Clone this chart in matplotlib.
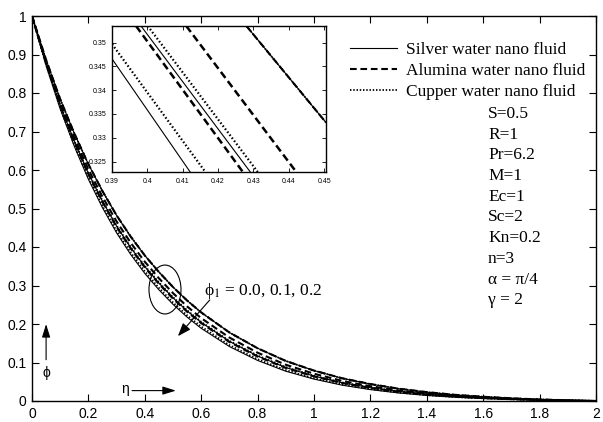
import matplotlib
matplotlib.use("Agg")
from matplotlib import pyplot as plt
from matplotlib.lines import Line2D
from matplotlib.patches import Ellipse

plt.rcParams['mathtext.fontset'] = 'stix'

# similarity variable
eta = [0, 0.05, 0.1, 0.15, 0.2, 0.25, 0.3, 0.35, 0.4, 0.45, 0.5, 0.55, 0.6,
       0.7, 0.8, 0.9, 1.0, 1.1, 1.2, 1.3, 1.4, 1.5, 1.6, 1.7, 1.8, 1.9, 2.0]

# phi1 = 0.0 (same for all three fluids)
phi_base = [1.0, 0.886, 0.784, 0.695, 0.615, 0.545, 0.482, 0.427, 0.378, 0.335, 0.296, 0.261, 0.230,
            0.178, 0.137, 0.104, 0.079, 0.059, 0.044, 0.032, 0.023, 0.016, 0.011, 0.007, 0.004, 0.0018, 0.0]
# phi1 = 0.1
alumina_01 = [1.0, 0.8811, 0.7754, 0.6836, 0.6016, 0.5302, 0.4663, 0.4109, 0.3617, 0.3188, 0.2802, 0.2457, 0.2153,
              0.1648, 0.1255, 0.0942, 0.0708, 0.0523, 0.0385, 0.0277, 0.0197, 0.0136, 0.0092, 0.0058, 0.0033, 0.0015, 0.0]
cupper_01 = [1.0, 0.8778, 0.7696, 0.6759, 0.5925, 0.5202, 0.4558, 0.4001, 0.3509, 0.3081, 0.2697, 0.2356, 0.2057,
             0.1563, 0.1181, 0.0880, 0.0656, 0.0481, 0.0352, 0.0251, 0.0177, 0.0121, 0.0082, 0.0051, 0.0029, 0.0013, 0.0]
silver_01 = [1.0, 0.8772, 0.7686, 0.6746, 0.5910, 0.5186, 0.4541, 0.3983, 0.3491, 0.3063, 0.2680, 0.2339, 0.2041,
             0.1549, 0.1168, 0.0869, 0.0647, 0.0474, 0.0347, 0.0247, 0.0174, 0.0119, 0.0080, 0.0050, 0.0028, 0.0012, 0.0]
# phi1 = 0.2
alumina_02 = [1.0, 0.8766, 0.7674, 0.6730, 0.5892, 0.5166, 0.4520, 0.3962, 0.3470, 0.3042, 0.2660, 0.2320, 0.2023,
              0.1532, 0.1154, 0.0858, 0.0638, 0.0466, 0.0340, 0.0242, 0.0170, 0.0116, 0.0078, 0.0049, 0.0027, 0.0012, 0.0]
cupper_02 = [1.0, 0.8732, 0.7615, 0.6653, 0.5802, 0.5068, 0.4417, 0.3857, 0.3365, 0.2939, 0.2559, 0.2224, 0.1932,
             0.1452, 0.1085, 0.0800, 0.0591, 0.0428, 0.0310, 0.0219, 0.0153, 0.0103, 0.0069, 0.0043, 0.0024, 0.0010, 0.0]
silver_02 = [1.0, 0.8715, 0.7586, 0.6616, 0.5758, 0.5019, 0.4367, 0.3805, 0.3314, 0.2889, 0.2511, 0.2178, 0.1888,
             0.1414, 0.1053, 0.0773, 0.0569, 0.0411, 0.0296, 0.0209, 0.0145, 0.0098, 0.0065, 0.0040, 0.0022, 0.0010, 0.0]

# zoomed window (end points of the segments as seen in the inset)
inset_base_eta = [0.4280, 0.4505]
inset_base = [0.3535, 0.3332]
inset_alumina_01_eta = [0.4110, 0.4421]
inset_alumina_01 = [0.3535, 0.3228]
inset_cupper_01_eta = [0.4001, 0.4312]
inset_cupper_01 = [0.3535, 0.3228]
inset_silver_01_eta = [0.3982, 0.4291]
inset_silver_01 = [0.3535, 0.3228]
inset_alumina_02_eta = [0.3968, 0.4270]
inset_alumina_02 = [0.3535, 0.3228]
inset_cupper_02_eta = [0.3900, 0.4164]
inset_cupper_02 = [0.3497, 0.3228]
inset_silver_02_eta = [0.3900, 0.4121]
inset_silver_02 = [0.3466, 0.3228]

params = ['S=0.5', 'R=1', 'Pr=6.2', 'M=1', 'Ec=1', 'Sc=2', 'Kn=0.2', 'n=3',
          '\u03b1 = \u03c0/4', '\u03b3 = 2']

serif = ['Liberation Serif', 'DejaVu Serif']
sans = ['Liberation Sans', 'DejaVu Sans']

solid = dict(color='k', lw=0.8, ls='-')
dashed = dict(color='k', lw=1.5, ls=(0, (3.2, 1.8)))
dotted = dict(color='k', lw=1.3, ls=(0, (0.8, 1.0)))

fig = plt.figure(figsize=(6.03, 4.22), dpi=100)
ax = fig.add_axes([32 / 603, 1 - 401 / 422, 564 / 603, 385 / 422])

for st in (solid, dashed, dotted):
    ax.plot(eta, phi_base, **st)
ax.plot(eta, silver_01, **solid)
ax.plot(eta, alumina_01, **dashed)
ax.plot(eta, cupper_01, **dotted)
ax.plot(eta, silver_02, **solid)
ax.plot(eta, alumina_02, **dashed)
ax.plot(eta, cupper_02, **dotted)

ax.set_xlim(0, 2)
ax.set_ylim(0, 1)
ax.set_xticks([0, 0.2, 0.4, 0.6, 0.8, 1, 1.2, 1.4, 1.6, 1.8, 2])
ax.set_xticklabels(['0', '0.2', '0.4', '0.6', '0.8', '1', '1.2', '1.4', '1.6', '1.8', '2'])
ax.set_yticks([0, 0.1, 0.2, 0.3, 0.4, 0.5, 0.6, 0.7, 0.8, 0.9, 1])
ax.set_yticklabels(['0', '0.1', '0.2', '0.3', '0.4', '0.5', '0.6', '0.7', '0.8', '0.9', '1'])
ax.tick_params(direction='in', length=5, width=0.8, top=True, right=True,
               labelsize=10, pad=4)
for lab in ax.get_xticklabels() + ax.get_yticklabels():
    lab.set_family(sans)
for sp in ax.spines.values():
    sp.set_linewidth(1.0)

# legend
handles = [Line2D([], [], **solid), Line2D([], [], **dashed), Line2D([], [], **dotted)]
ax.legend(handles, ['Silver water nano fluid', 'Alumina water nano fluid', 'Cupper water nano fluid'],
          loc='upper left', bbox_to_anchor=(350 / 603, 1 - 42 / 422), bbox_transform=fig.transFigure,
          frameon=False, borderpad=0, borderaxespad=0, handlelength=2.7, handletextpad=0.55,
          labelspacing=0.28, prop={'family': serif, 'size': 12.5})

for i, p in enumerate(params):
    fig.text(488 / 603, 1 - (114 + 20.7 * i) / 422, p, family=serif, fontsize=12.5, va='center')

# annotation for phi1
ax.add_patch(Ellipse((0.4716, 0.2896), 0.1135, 0.127, fill=False, color='k', lw=0.8))
ax.annotate('', xy=(0.511, 0.163), xytext=(0.637, 0.268),
            arrowprops=dict(arrowstyle='-|>,head_length=0.8,head_width=0.3', color='k', lw=0.8))
ax.text(0.61, 0.2845, '\u03d5$_1$ = 0.0, 0.1, 0.2', family=serif, fontsize=12.5, va='center')

# axis arrows
ax.annotate('', xy=(0.05, 0.207), xytext=(0.05, 0.10),
            arrowprops=dict(arrowstyle='-|>,head_length=0.8,head_width=0.25', color='k', lw=0.8))
ax.text(0.05, 0.072, '\u03d5', family=sans, fontsize=10, ha='center', va='center')
ax.annotate('', xy=(0.52, 0.027), xytext=(0.345, 0.027),
            arrowprops=dict(arrowstyle='-|>,head_length=0.8,head_width=0.25', color='k', lw=0.8))
ax.text(0.33, 0.03, '\u03b7', family=sans, fontsize=10, ha='center', va='center')

# inset
axin = fig.add_axes([112 / 603, 1 - 172 / 422, 214 / 603, 146 / 422])
for st in (solid, dashed, dotted):
    axin.plot(inset_base_eta, inset_base, **st)
axin.plot(inset_silver_01_eta, inset_silver_01, color='k', lw=0.8)
axin.plot(inset_alumina_01_eta, inset_alumina_01, color='k', lw=1.8, ls=(0, (3.0, 1.6)))
axin.plot(inset_cupper_01_eta, inset_cupper_01, color='k', lw=1.6, ls=(0, (0.7, 1.0)))
axin.plot(inset_silver_02_eta, inset_silver_02, color='k', lw=0.8)
axin.plot(inset_alumina_02_eta, inset_alumina_02, color='k', lw=1.8, ls=(0, (3.0, 1.6)))
axin.plot(inset_cupper_02_eta, inset_cupper_02, color='k', lw=1.6, ls=(0, (0.7, 1.0)))
axin.set_xlim(0.39, 0.4505)
axin.set_ylim(0.3228, 0.3535)
axin.set_xticks([0.39, 0.4, 0.41, 0.42, 0.43, 0.44, 0.45])
axin.set_xticklabels(['0.39', '0.4', '0.41', '0.42', '0.43', '0.44', '0.45'])
axin.set_yticks([0.325, 0.33, 0.335, 0.34, 0.345, 0.35])
axin.set_yticklabels(['0.325', '0.33', '0.335', '0.34', '0.345', '0.35'])
axin.tick_params(direction='in', length=3, width=0.6, top=True, right=True, labelsize=5, pad=4)
for lab in axin.get_xticklabels() + axin.get_yticklabels():
    lab.set_family(sans)
for sp in axin.spines.values():
    sp.set_linewidth(1.0)

fig.savefig('out.png', dpi=100)
